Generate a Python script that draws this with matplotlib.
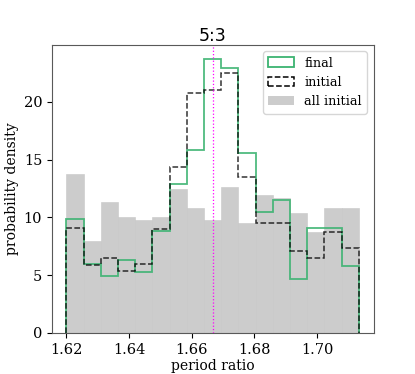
import matplotlib
matplotlib.use('Agg')
import matplotlib.pyplot as plt
import numpy as np
from matplotlib.patches import Patch

plt.rcParams['font.family'] = 'serif'
plt.rcParams['font.serif'] = ['DejaVu Serif']

# bin range: 5/3 * (1 +/- 0.028), 17 bins
RES = 5.0 / 3.0
N_BINS = 17
edges = np.linspace(RES * (1 - 0.028), RES * (1 + 0.028), N_BINS + 1)

all_initial = [13.73, 7.97, 11.37, 10.07, 9.78, 10.07, 12.43, 10.85, 9.78,
               12.66, 9.55, 11.91, 11.65, 10.36, 8.75, 10.85, 10.85]
final = [9.84, 5.96, 4.95, 6.33, 5.24, 8.78, 12.86, 15.83, 23.74,
         22.94, 15.60, 10.42, 11.51, 4.69, 9.06, 9.06, 5.76]
initial = [9.04, 5.90, 6.50, 5.32, 5.96, 8.98, 14.39, 20.78, 21.06,
           22.50, 13.53, 9.55, 9.55, 7.11, 6.50, 8.75, 7.31]

GREEN = 'mediumseagreen'

fig, ax = plt.subplots(figsize=(4.15, 3.74), dpi=100)

ax.bar(edges[:-1], all_initial, width=np.diff(edges), align='edge',
       color='0.8', edgecolor='0.78', lw=0.4, zorder=1)
ax.stairs(final, edges, color=GREEN, lw=1.3, alpha=0.9, zorder=3)
ax.stairs(initial, edges, color='black', lw=1.1, ls='--', alpha=0.8, zorder=4)

ax.axvline(RES, color='magenta', ls=':', lw=0.9, zorder=5)

ax.set_title('5:3', family='DejaVu Sans', fontsize=12.5, pad=3)
ax.set_xlabel('period ratio', fontsize=10, labelpad=2)
ax.set_ylabel('probability density', fontsize=10, labelpad=3)
ax.tick_params(labelsize=10.5)
ax.set_xticks([1.62, 1.64, 1.66, 1.68, 1.70])
ax.set_yticks([0, 5, 10, 15, 20])
for s in ax.spines.values():
    s.set_edgecolor('0.35')

handles = [
    Patch(facecolor='none', edgecolor=GREEN, lw=1.3, label='final'),
    Patch(facecolor='none', edgecolor='black', lw=1.1, ls='--', label='initial'),
    Patch(facecolor='0.8', edgecolor='none', label='all initial'),
]
ax.legend(handles=handles, loc='upper right', fontsize=9.3)

plt.savefig('out.png', dpi=100)
plt.close()
